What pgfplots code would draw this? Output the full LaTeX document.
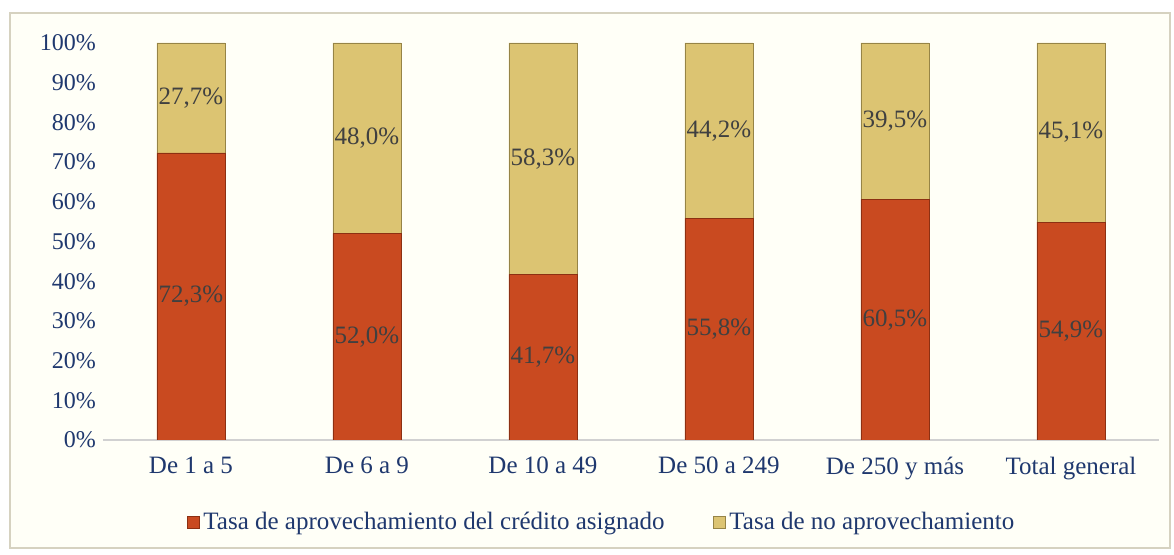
\documentclass[border=0pt]{standalone}
\usepackage{pgfplots}
\pgfplotsset{compat=1.18}
\usepackage{fontspec}
\setmainfont{Liberation Serif}

\definecolor{barorange}{RGB}{201,74,32}
\definecolor{barorangedk}{RGB}{140,48,18}
\definecolor{barkhaki}{RGB}{220,196,114}
\definecolor{barkhakidk}{RGB}{150,132,70}
\definecolor{tickblue}{RGB}{31,56,110}
\definecolor{labelgray}{RGB}{64,64,64}
\definecolor{framebg}{RGB}{255,255,247}
\definecolor{frameline}{RGB}{214,210,192}

\begin{document}
\begin{tikzpicture}
\useasboundingbox (-51.5pt,-57.5pt) rectangle (535.5pt,220pt);
\filldraw[fill=framebg, draw=frameline, line width=1.2pt] (-46.5pt,-54pt) rectangle (533.5pt,213.5pt);

\begin{axis}[
    at={(0pt,0pt)}, anchor=south west,
    scale only axis,
    width=528pt, height=198.5pt,
    ybar stacked, bar width=34pt,
    xmin=-0.5, xmax=5.5,
    ymin=0, ymax=100,
    axis x line*=bottom, axis y line*=left,
    x axis line style={draw=black!18, line width=1pt},
    y axis line style={draw=none},
    major tick length=0pt,
    xtick={0,1,2,3,4,5},
    xticklabels={De 1 a 5, De 6 a 9, De 10 a 49, De 50 a 249, De 250 y más, Total general},
    ytick={0,10,...,100},
    yticklabel={\pgfmathprintnumber{\tick}\%},
    /pgf/number format/assume math mode=true,
    ticklabel style={font=\fontsize{12}{14}\selectfont, text=tickblue},
    xticklabel style={yshift=-5pt, font=\fontsize{12.5}{14}\selectfont},
    legend style={at={(0.473,-0.2065)}, anchor=center, draw=none, fill=none,
        legend columns=2, font=\fontsize{12.5}{14}\selectfont, text=tickblue,
        /tikz/every even column/.append style={column sep=22pt}},
    legend image code/.code={\fill[#1] (0pt,-3pt) rectangle (6pt,3pt);},
]
\addplot[fill=barorange, draw=barorangedk, line width=0.4pt] coordinates
    {(0,72.3) (1,52.0) (2,41.7) (3,55.8) (4,60.5) (5,54.9)};
\addplot[fill=barkhaki, draw=barkhakidk, line width=0.4pt] coordinates
    {(0,27.7) (1,48.0) (2,58.3) (3,44.2) (4,39.5) (5,45.1)};
\legend{Tasa de aprovechamiento del crédito asignado, Tasa de no aprovechamiento}
\end{axis}

% data labels, centred in each segment
\begin{axis}[
    at={(0pt,0pt)}, anchor=south west,
    scale only axis,
    width=528pt, height=198.5pt,
    xmin=-0.5, xmax=5.5,
    ymin=0, ymax=100,
    hide axis,
    nodes near coords={\pgfmathprintnumber[fixed,fixed zerofill,precision=1,use comma,assume math mode=true]{\pgfplotspointmeta}\%},
    every node near coord/.append style={anchor=center, font=\fontsize{12.5}{14}\selectfont, text=labelgray},
]
\addplot[draw=none, mark=none, point meta=explicit] table[meta=v] {
x y v
0 36.15 72.3
1 26.00 52.0
2 20.85 41.7
3 27.90 55.8
4 30.25 60.5
5 27.45 54.9
};
\addplot[draw=none, mark=none, point meta=explicit] table[meta=v] {
x y v
0 86.15 27.7
1 76.00 48.0
2 70.85 58.3
3 77.90 44.2
4 80.25 39.5
5 77.45 45.1
};
\end{axis}
\end{tikzpicture}
\end{document}
